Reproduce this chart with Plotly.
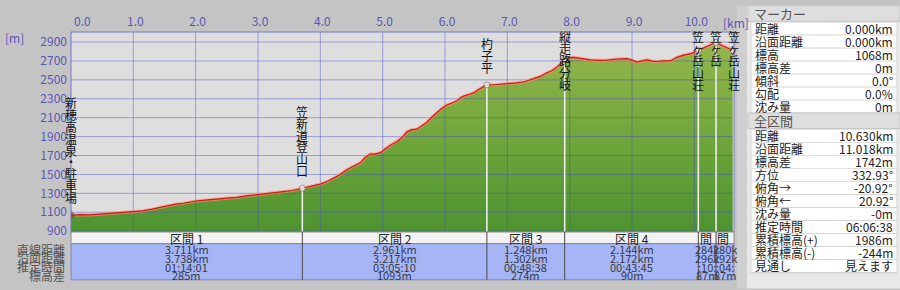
import math
import numpy as np
import plotly.graph_objects as go

# ---------------- data ----------------
profile_km = [0.00, 0.15, 0.30, 0.45, 0.60, 0.80, 0.98, 1.15, 1.30, 1.45,
              1.52, 1.68, 1.80, 2.00, 2.15, 2.30, 2.48, 2.65, 2.85, 3.01,
              3.12, 3.23, 3.40, 3.55, 3.711,
              3.85, 4.00, 4.10, 4.22, 4.32, 4.43, 4.55, 4.64, 4.72, 4.80,
              4.88, 4.97, 5.05, 5.13, 5.23, 5.31, 5.39, 5.47, 5.55, 5.63,
              5.71, 5.80, 5.87, 5.95, 6.03, 6.12, 6.19, 6.25, 6.30, 6.38,
              6.46, 6.53, 6.60, 6.672,
              6.80, 7.00, 7.15, 7.27, 7.40, 7.53, 7.62, 7.72, 7.80, 7.85, 7.92,
              8.00, 8.07, 8.20, 8.33, 8.47, 8.60, 8.75, 8.92, 9.00, 9.08,
              9.16, 9.24, 9.32, 9.40, 9.50, 9.62, 9.72, 9.83, 9.95, 10.064,
              10.15, 10.25, 10.348, 10.45, 10.55, 10.628]
profile_m = [1068, 1075, 1072, 1080, 1088, 1097, 1106, 1115, 1132, 1155,
             1168, 1185, 1195, 1219, 1228, 1237, 1243, 1258, 1275, 1288,
             1300, 1312, 1318, 1330, 1353,
             1372, 1398, 1422, 1467, 1500, 1553, 1590, 1622, 1680, 1716,
             1714, 1733, 1775, 1811, 1846, 1890, 1950, 1974, 1978, 2012,
             2052, 2112, 2155, 2200, 2234, 2258, 2276, 2310, 2328, 2345,
             2362, 2395, 2420, 2446,
             2448, 2455, 2468, 2480, 2510, 2536, 2570, 2598, 2640, 2668, 2720,
             2735, 2738, 2724, 2712, 2706, 2708, 2720, 2724, 2708, 2688,
             2700, 2712, 2698, 2694, 2702, 2700, 2738, 2762, 2778, 2810,
             2835, 2866, 2897, 2860, 2830, 2810]

marker_names = ["新穂高温泉・駐車場", "笠新道登山口", "杓子平", "縦走路分岐",
                "笠ヶ岳山荘", "笠ヶ岳", "笠ヶ岳山荘"]
start_elevation = 1068

section_names = ["区間 1", "区間 2", "区間 3", "区間 4", "区間 5", "区間 6"]
section_straight_km = [3.711, 2.961, 1.248, 2.144, 0.284, 0.280]
section_surface_km = [3.738, 3.217, 1.302, 2.172, 0.296, 0.292]
section_time = ["01:14:01", "03:05:10", "00:48:38", "00:43:45", "00:10:08", "00:04:56"]
section_elev_diff = [285, 1093, 274, 90, 87, -87]
table_row_labels = ["直線距離", "沿面距離", "推定時間", "標高差"]

x_tick_values = [0, 1, 2, 3, 4, 5, 6, 7, 8, 9, 10]
x_tick_labels = ["0.0", "1.0", "2.0", "3.0", "4.0", "5.0", "6.0", "7.0", "8.0", "9.0", "10.0"]
y_tick_values = [900, 1100, 1300, 1500, 1700, 1900, 2100, 2300, 2500, 2700, 2900]

marker_panel_title = "マーカー"
marker_panel_labels = ["距離", "沿面距離", "標高", "標高差", "傾斜", "勾配", "沈み量"]
marker_panel_values = ["0.000km", "0.000km", "1068m", "0m", "0.0°", "0.0%", "0m"]
total_panel_title = "全区間"
total_panel_labels = ["距離", "沿面距離", "標高差", "方位", "俯角→", "俯角←", "沈み量",
                      "推定時間", "累積標高(+)", "累積標高(-)", "見通し"]
total_panel_values = ["10.630km", "11.018km", "1742m", "332.93°", "-20.92°", "20.92°", "-0m",
                      "06:06:38", "1986m", "-244m", "見えます"]

# ---------------- geometry ----------------
W, H = 900, 290
ML, MR, MT, MB = 71, 166, 27, 58
PW, PH = W - ML - MR, H - MT - MB
X_RANGE = [0, 10.636]
Y_RANGE = [891, 3006]
FONT = "Noto Sans CJK JP, Noto Sans, sans-serif"
AXIS_BLUE = "#5858b8"


def pxx(x):
    return (x - ML) / PW


def pxy(y):
    return (H - MB - y) / PH


def elev_to_pix(m):
    return (H - MB) - (m - Y_RANGE[0]) / (Y_RANGE[1] - Y_RANGE[0]) * PH


def km_to_pix(k):
    return ML + (k - X_RANGE[0]) / (X_RANGE[1] - X_RANGE[0]) * PW


marker_x = np.concatenate([[0.0], np.cumsum(section_straight_km)])
marker_elev = np.concatenate([[start_elevation], start_elevation + np.cumsum(section_elev_diff)])

fig = go.Figure()

# grid lines (drawn above the fill)
gx, gy = [], []
for t in x_tick_values[1:]:
    gx += [t, t, None]
    gy += [Y_RANGE[0], Y_RANGE[1], None]
for v in y_tick_values:
    gx += [X_RANGE[0], X_RANGE[1], None]
    gy += [v, v, None]

# filled profile
fig.add_trace(go.Scatter(
    x=profile_km, y=profile_m, mode="lines", line=dict(width=0),
    fill="tozeroy",
    fillgradient=dict(type="vertical", start=Y_RANGE[0], stop=2900,
                      colorscale=[[0, "#4b912f"], [0.5, "#6fa63b"], [1, "#94b64b"]]),
    hoverinfo="skip", showlegend=False))

fig.add_trace(go.Scatter(x=gx, y=gy, mode="lines",
                         line=dict(color="rgba(75,75,205,0.45)", width=1),
                         hoverinfo="skip", showlegend=False))

# marker vertical white lines
wx, wy = [], []
for xm, em in zip(marker_x[1:], marker_elev[1:]):
    wx += [xm, xm, None]
    wy += [em, Y_RANGE[0], None]
fig.add_trace(go.Scatter(x=wx, y=wy, mode="lines",
                         line=dict(color="#f4f4f4", width=1.5),
                         hoverinfo="skip", showlegend=False))

# red profile line with halo
fig.add_trace(go.Scatter(x=profile_km, y=profile_m, mode="lines",
                         line=dict(color="rgba(255,140,120,0.65)", width=3.2),
                         hoverinfo="skip", showlegend=False))
fig.add_trace(go.Scatter(x=profile_km, y=profile_m, mode="lines",
                         line=dict(color="#dc1410", width=1.2),
                         hoverinfo="skip", showlegend=False))

# markers
fig.add_trace(go.Scatter(
    x=marker_x, y=marker_elev, mode="markers",
    marker=dict(size=[7] + [6] * (len(marker_x) - 1),
                symbol=["diamond"] + ["circle"] * (len(marker_x) - 1),
                color=["#8a3a20"] + ["#ffffff"] * (len(marker_x) - 1),
                line=dict(color="#707070", width=1)),
    hoverinfo="skip", showlegend=False))

shapes = []
annotations = []


def ann(**kw):
    kw.setdefault("showarrow", False)
    kw.setdefault("xanchor", "center")
    kw.setdefault("yanchor", "middle")
    kw.setdefault("xref", "paper")
    kw.setdefault("yref", "paper")
    annotations.append(kw)


# plot border
shapes.append(dict(type="rect", xref="paper", yref="paper", x0=0, x1=1, y0=0, y1=1,
                   line=dict(color="#7474cc", width=1), layer="above"))

# vertical marker labels (one glyph per annotation)
CH = 12.2
for name, xm, em in zip(marker_names, marker_x, marker_elev):
    n = len(name)
    ptop = max(32.0, elev_to_pix(em) - 18 - (n - 1) * CH)
    for k, ch in enumerate(name):
        ann(x=xm, xref="x", y=pxy(ptop + k * CH), text=ch,
            font=dict(family=FONT, size=12, color="#111111"))

# axis unit labels
ann(x=pxx(14), y=pxy(33), text="[m]", font=dict(family=FONT, size=12, color=AXIS_BLUE))
ann(x=pxx(736), y=pxy(17), text="[km]", font=dict(family=FONT, size=12, color=AXIS_BLUE))

# ---------------- section table ----------------
T_TOP, T_HEAD, T_BOT = 232, 244, 281
shapes.append(dict(type="rect", xref="paper", yref="paper", x0=0, x1=1,
                   y0=pxy(T_HEAD), y1=pxy(T_TOP), fillcolor="#f3f3f3",
                   line=dict(color="#8a8a8a", width=1), layer="above"))
shapes.append(dict(type="rect", xref="paper", yref="paper", x0=0, x1=1,
                   y0=pxy(T_BOT), y1=pxy(T_HEAD), fillcolor="#a6b5f6",
                   line=dict(color="#7d86b8", width=1), layer="above"))
for b in marker_x[1:-1]:
    shapes.append(dict(type="line", xref="x", yref="paper", x0=b, x1=b,
                       y0=pxy(T_BOT), y1=pxy(T_TOP), line=dict(color="#4a4a4a", width=1),
                       layer="above"))


def char_w(c, size):
    if ord(c) > 0x2E80:
        return size
    if c in ".:":
        return size * 0.27
    if c == " ":
        return size * 0.25
    if c == "m":
        return size * 0.82
    if c == "-":
        return size * 0.34
    return size * 0.55


def clip_text(s, width_px, size):
    widths = [char_w(c, size) for c in s]
    total = sum(widths)
    if total <= width_px:
        return s
    x = -total / 2
    out = ""
    for c, w in zip(s, widths):
        if abs(x + w / 2) <= width_px / 2 + 1.5:
            out += c
        x += w
    return out


row_y = [249.5, 258.5, 267.5, 276.5]
for i, name in enumerate(section_names):
    x0, x1 = marker_x[i], marker_x[i + 1]
    xc = (x0 + x1) / 2
    wpx = km_to_pix(x1) - km_to_pix(x0)
    ann(x=xc, xref="x", y=pxy(238.3), text=clip_text(name, wpx, 12),
        font=dict(family=FONT, size=12, color="#222222"))
    vals = [f"{section_straight_km[i]:.3f}km", f"{section_surface_km[i]:.3f}km",
            section_time[i], f"{section_elev_diff[i]}m"]
    for v, yy in zip(vals, row_y):
        ann(x=xc, xref="x", y=pxy(yy), text=clip_text(v, wpx, 11),
            font=dict(family=FONT, size=11, color="#343a48"))
for lab, yy in zip(table_row_labels, row_y):
    ann(x=pxx(67), y=pxy(yy), text=lab, xanchor="right",
        font=dict(family=FONT, size=12, color="#555555"))

# ---------------- right panel ----------------
shapes.append(dict(type="rect", xref="paper", yref="paper", x0=pxx(737), x1=pxx(747),
                   y0=pxy(290), y1=pxy(0), fillcolor="#cfcfcf", line=dict(width=0)))
shapes.append(dict(type="rect", xref="paper", yref="paper", x0=pxx(747), x1=pxx(900),
                   y0=pxy(290), y1=pxy(0), fillcolor="#e8e8e8", line=dict(width=0)))


def panel_block(title, labels, values, top):
    shapes.append(dict(type="rect", xref="paper", yref="paper", x0=pxx(748), x1=pxx(900),
                       y0=pxy(top + 16), y1=pxy(top), fillcolor="#dedede",
                       line=dict(color="#c4c4c4", width=1)))
    ann(x=pxx(752), y=pxy(top + 8), text=title, xanchor="left",
        font=dict(family=FONT, size=13, color="#555555"))
    rtop = top + 17.3
    rh = 13.33
    shapes.append(dict(type="rect", xref="paper", yref="paper", x0=pxx(750.5), x1=pxx(897.5),
                       y0=pxy(rtop + rh * len(labels) + 0.5), y1=pxy(rtop - 0.5),
                       fillcolor="#d4d4d4", line=dict(width=0)))
    for i, (lab, val) in enumerate(zip(labels, values)):
        yt = rtop + i * rh
        shapes.append(dict(type="rect", xref="paper", yref="paper", x0=pxx(751.5), x1=pxx(896.5),
                           y0=pxy(yt + rh - 1), y1=pxy(yt), fillcolor="#ffffff",
                           line=dict(width=0)))
        ann(x=pxx(753), y=pxy(yt + rh / 2 - 0.5), text=lab, xanchor="left",
            font=dict(family=FONT, size=12, color="#222222"))
        ann(x=pxx(895), y=pxy(yt + rh / 2 - 0.5), text=val, xanchor="right",
            font=dict(family=FONT, size=12, color="#222222"))


panel_block(marker_panel_title, marker_panel_labels, marker_panel_values, 0)
panel_block(total_panel_title, total_panel_labels, total_panel_values, 110)

# x tick label text (first label nudged inside as in the original)
x_tick_text = ["\u00a0" * 7 + x_tick_labels[0]] + x_tick_labels[1:]

fig.update_layout(
    width=W, height=H,
    margin=dict(l=ML, r=MR, t=MT, b=MB, pad=0),
    paper_bgcolor="#c4c4c4",
    plot_bgcolor="#dedede",
    font=dict(family=FONT, size=12, color=AXIS_BLUE),
    showlegend=False,
    shapes=shapes,
    annotations=annotations,
    xaxis=dict(range=X_RANGE, side="top", tickmode="array", tickvals=x_tick_values,
               ticktext=x_tick_text, showgrid=False, zeroline=False, showline=False,
               ticks="", ticklabelshift=2, ticklabelstandoff=3,
               tickfont=dict(family=FONT, size=12, color=AXIS_BLUE), fixedrange=True),
    yaxis=dict(range=Y_RANGE, tickmode="array", tickvals=y_tick_values,
               ticktext=[str(v) for v in y_tick_values], showgrid=False, zeroline=False,
               showline=False, ticks="", ticklabelstandoff=3,
               tickfont=dict(family=FONT, size=12, color=AXIS_BLUE), fixedrange=True),
)

fig.write_html("out.html")
